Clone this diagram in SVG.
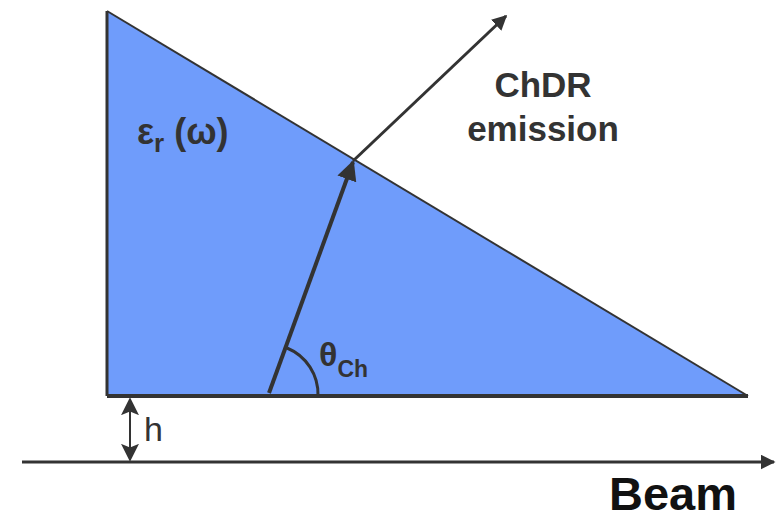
<svg xmlns="http://www.w3.org/2000/svg" width="782" height="519" viewBox="0 0 782 519">
<defs>
<style>
.t{font-family:"Liberation Sans",Arial,sans-serif;fill:#333333}
.b{font-weight:bold}
.ln{stroke:#333333;fill:none}
</style>
<marker id="ah" viewBox="0 0 10 10" refX="9" refY="5" markerWidth="5" markerHeight="5" orient="auto" markerUnits="strokeWidth">
<path d="M0,0 L10,5 L0,10 z" fill="#333333"/>
</marker>
<marker id="ahs" viewBox="0 0 10 10" refX="9" refY="5" markerWidth="9" markerHeight="9" orient="auto-start-reverse" markerUnits="strokeWidth">
<path d="M0,0 L10,5 L0,10 L2,5 z" fill="#333333"/>
</marker>
</defs>
<rect width="782" height="519" fill="#ffffff"/>
<g id="prism">
<polygon points="107,11 107,396 748,396" fill="#6f9cfb" stroke="none"/>
<path class="ln" d="M107,396 L107,11" stroke-width="3"/>
<path class="ln" d="M107,11 L748,396" stroke-width="2"/>
<path class="ln" d="M107,396 L748,396" stroke-width="4"/>
<text class="t b" x="137" y="144" font-size="36">ε<tspan font-size="26" dy="8">r</tspan><tspan dy="-8"> (ω)</tspan></text>
</g>
<g id="angle">
<path class="ln" d="M287,348 A50,50 0 0 1 318,396" stroke-width="3"/>
<text class="t b" x="319" y="366" font-size="34">θ<tspan font-size="23" dy="11">Ch</tspan></text>
</g>
<g id="labels">
<text class="t b" x="543" y="97" font-size="35" text-anchor="middle">ChDR</text>
<text class="t b" x="543" y="141" font-size="35" text-anchor="middle">emission</text>
<text class="t" x="144" y="441" font-size="34">h</text>
<text class="t b" x="673" y="510" font-size="47" text-anchor="middle" style="fill:#111111">Beam</text>
</g>
<g id="connectors">
<line class="ln" x1="269" y1="393" x2="353" y2="162" stroke-width="4" marker-end="url(#ah)"/>
<line class="ln" x1="353" y1="161" x2="506" y2="16" stroke-width="3" marker-end="url(#ah)"/>
<line class="ln" x1="22" y1="462" x2="774" y2="462" stroke-width="3" marker-end="url(#ah)"/>
<line class="ln" x1="130" y1="399" x2="130" y2="460" stroke-width="2" marker-start="url(#ahs)" marker-end="url(#ahs)"/>
</g>
</svg>
